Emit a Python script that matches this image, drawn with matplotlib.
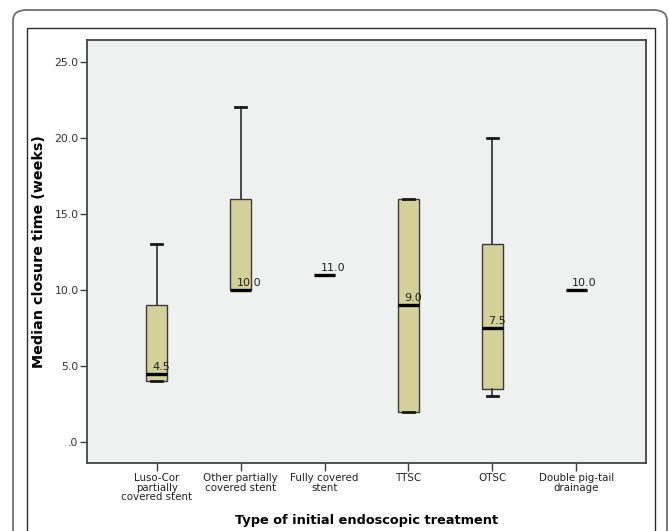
import matplotlib
matplotlib.use("Agg")
import matplotlib.pyplot as plt
from matplotlib.patches import FancyBboxPatch, Rectangle
from matplotlib.ticker import FuncFormatter

# data (weeks)
categories = ["Luso-Cor\npartially\ncovered stent", "Other partially\ncovered stent",
              "Fully covered\nstent", "TTSC", "OTSC", "Double pig-tail\ndrainage"]
whisker_low = [4.0, 10.0, 11.0, 2.0, 3.0, 10.0]
q1 = [4.0, 10.0, 11.0, 2.0, 3.5, 10.0]
medians = [4.5, 10.0, 11.0, 9.0, 7.5, 10.0]
q3 = [9.0, 16.0, 11.0, 16.0, 13.0, 10.0]
whisker_high = [13.0, 22.0, 11.0, 16.0, 20.0, 10.0]
y_ticks = [0, 5, 10, 15, 20, 25]

plt.rcParams['font.family'] = ['DejaVu Sans']

fig = plt.figure(figsize=(6.69, 5.31), dpi=100)

# outer rounded frame and inner box, both running off the bottom edge
outer = FancyBboxPatch((13/669, -0.2), (667-13)/669, (531-10)/531 + 0.2,
                       boxstyle="round,pad=0,rounding_size=0.02",
                       transform=fig.transFigure, fill=False,
                       edgecolor="#6e6e6e", linewidth=1.3, clip_on=False)
inner = Rectangle((27/669, -0.2), (655-27)/669, (531-28)/531 + 0.2,
                  transform=fig.transFigure, fill=False,
                  edgecolor="#2b2b2b", linewidth=1.0)
fig.patches.extend([outer, inner])

ax = fig.add_axes([87/669, (531-463)/531, (646-87)/669, (463-40)/531])
ax.set_facecolor("#eff0f0")

stats = []
for lo, a, m, b, hi in zip(whisker_low, q1, medians, q3, whisker_high):
    stats.append({"whislo": lo, "q1": a, "med": m, "q3": b, "whishi": hi, "fliers": []})

positions = list(range(1, len(categories) + 1))
ax.bxp(stats, positions=positions, widths=0.25, patch_artist=True, showfliers=False,
       boxprops=dict(facecolor="#d3d09a", edgecolor="#3c3c3c", linewidth=1.0),
       medianprops=dict(color="black", linewidth=2.4, solid_capstyle="butt"),
       whiskerprops=dict(color="#3c3c3c", linewidth=1.3),
       capprops=dict(color="#1a1a1a", linewidth=2.0),
       capwidths=0.13)

for p, m in zip(positions, medians):
    ax.text(p - 0.05, m + 0.12, f"{m:.1f}", fontsize=8, color="#222222",
            ha="left", va="bottom")

ax.set_xlim(0.17, 6.83)
ax.set_ylim(-1.38, 26.43)
ax.set_yticks(y_ticks)
ax.yaxis.set_major_formatter(FuncFormatter(lambda v, _: ".0" if v == 0 else f"{v:.1f}"))
ax.set_xticks(positions)
ax.set_xticklabels(categories, fontsize=7.4, color="#222222", linespacing=0.9)
ax.tick_params(axis="y", labelsize=7.8, labelcolor="#333333", length=5, width=1.0,
               color="#3c3c3c", direction="out", pad=1)
ax.tick_params(axis="x", length=6, width=1.0, color="#3c3c3c", direction="out", pad=1.5)
for s in ax.spines.values():
    s.set_color("#444444")
    s.set_linewidth(1.3)

ax.set_ylabel("Median closure time (weeks)", fontsize=10.3, fontweight="bold", labelpad=6)
ax.set_xlabel("Type of initial endoscopic treatment", fontsize=9.3, fontweight="bold",
              va="top")
ax.xaxis.set_label_coords(0.501, -0.121)

fig.savefig("out.png", dpi=100)
